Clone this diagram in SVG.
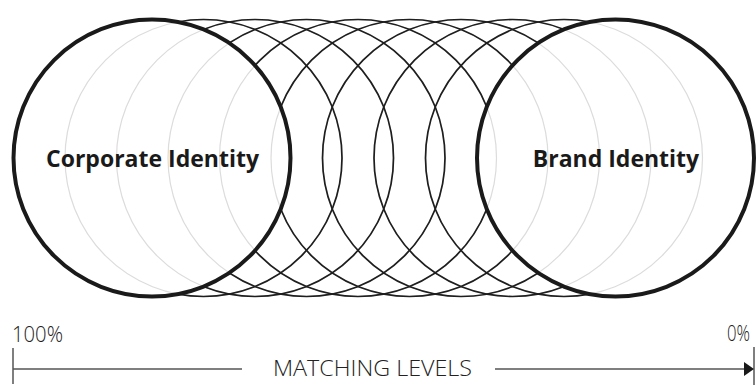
<svg xmlns="http://www.w3.org/2000/svg" width="756" height="385" viewBox="0 0 756 385">
  <style>
    .big { fill: none; stroke: #1a1a1a; stroke-width: 4; }
    .mid { fill: none; stroke: #1e1e1e; stroke-width: 1.7; }
    .ghost { fill: none; stroke: #dcdcdc; stroke-width: 1.2; }
    .label { font-family: "Open Sans", "DejaVu Sans", sans-serif; font-weight: 700; font-size: 23px; fill: #1a1a1a; }
    .axis-text { font-family: "Open Sans", "DejaVu Sans", sans-serif; font-weight: 300; font-size: 22px; fill: #222; }
    .axis { stroke: #555; stroke-width: 1.5; fill: none; }
  </style>
  <defs>
    <g id="mids">
      <circle cx="203.5" cy="158" r="138.5"/>
      <circle cx="255" cy="158" r="138.5"/>
      <circle cx="306.5" cy="158" r="138.5"/>
      <circle cx="358" cy="158" r="138.5"/>
      <circle cx="409.5" cy="158" r="138.5"/>
      <circle cx="461" cy="158" r="138.5"/>
      <circle cx="512.5" cy="158" r="138.5"/>
      <circle cx="564" cy="158" r="138.5"/>
    </g>
    <mask id="outside" maskUnits="userSpaceOnUse" x="0" y="0" width="756" height="385">
      <rect x="0" y="0" width="756" height="385" fill="#fff"/>
      <circle cx="152" cy="158" r="138.5" fill="#000"/>
      <circle cx="615.5" cy="158" r="138.5" fill="#000"/>
    </mask>
  </defs>
  <rect x="0" y="0" width="756" height="385" fill="#fff"/>

  <g id="matching-circles">
    <use href="#mids" class="ghost"/>
    <use href="#mids" class="mid" mask="url(#outside)"/>
  </g>

  <g id="corporate-identity">
    <circle class="big" cx="152" cy="158" r="138.5"/>
    <text class="label" x="152.5" y="167" text-anchor="middle">Corporate Identity</text>
  </g>

  <g id="brand-identity">
    <circle class="big" cx="615.5" cy="158" r="138.5"/>
    <text class="label" x="616" y="167" text-anchor="middle">Brand Identity</text>
  </g>

  <g id="connectors">
    <line class="axis" x1="13" y1="348" x2="13" y2="384"/>
    <line class="axis" x1="754" y1="347" x2="754" y2="385"/>
    <line class="axis" x1="13" y1="369" x2="242" y2="369"/>
    <line class="axis" x1="495" y1="369" x2="746" y2="369"/>
    <polygon points="744,362 754,369 744,376" fill="#1a1a1a"/>
  </g>

  <g id="axis-labels">
    <text class="axis-text" x="12" y="342" textLength="51" lengthAdjust="spacingAndGlyphs">100%</text>
    <text class="axis-text" x="727" y="341" textLength="23" lengthAdjust="spacingAndGlyphs">0%</text>
    <text class="axis-text" x="273" y="376" textLength="199" lengthAdjust="spacingAndGlyphs">MATCHING LEVELS</text>
  </g>
</svg>
